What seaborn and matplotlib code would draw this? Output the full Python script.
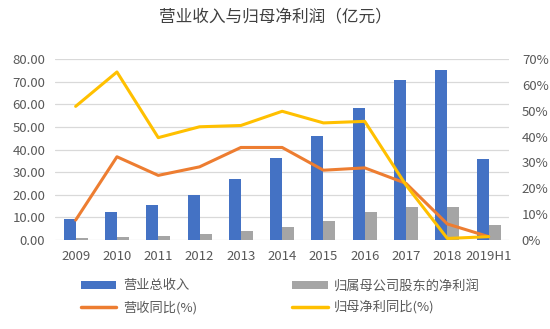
import numpy as np
import pandas as pd
import matplotlib
matplotlib.use("Agg")
import matplotlib.pyplot as plt
import seaborn as sns
from matplotlib.patches import Patch
from matplotlib.lines import Line2D
from matplotlib.ticker import FuncFormatter

years = ["2009", "2010", "2011", "2012", "2013", "2014", "2015", "2016", "2017", "2018", "2019H1"]
revenue = [9.1, 12.4, 15.3, 19.7, 26.8, 36.2, 45.9, 58.5, 70.9, 75.0, 35.6]
net_profit = [0.7, 1.3, 1.9, 2.6, 3.8, 5.7, 8.2, 12.2, 14.7, 14.7, 6.8]
revenue_yoy = [7.7, 32.2, 25.0, 28.3, 35.8, 35.8, 27.0, 27.9, 21.9, 6.2, 1.3]
profit_yoy = [51.7, 65.0, 39.6, 43.8, 44.3, 49.8, 45.3, 45.9, 21.2, 0.6, 1.3]

bar_labels = ["营业总收入", "归属母公司股东的净利润"]
line_labels = ["营收同比(%)", "归母净利同比(%)"]
title = "营业收入与归母净利润（亿元）"

c_blue, c_gray, c_orange, c_yellow = "#4472C4", "#A5A5A5", "#ED7D31", "#FFC000"
txt = "#595959"

sns.set_theme(style="white")
plt.rcParams["font.family"] = ["Noto Sans CJK SC", "DejaVu Sans"]

df = pd.DataFrame({
    "year": years * 2,
    "value": revenue + net_profit,
    "series": [bar_labels[0]] * len(years) + [bar_labels[1]] * len(years),
})

fig = plt.figure(figsize=(5.5, 3.29), dpi=100)
ax = fig.add_axes([0.1, 0.2705, 0.826, 0.55])

sns.barplot(data=df, x="year", y="value", hue="series", order=years,
            palette=[c_blue, c_gray], width=0.58, gap=0, ax=ax, legend=False,
            saturation=1, linewidth=0, edgecolor="none")
ax.set_ylim(0, 80)
ax.set_yticks(np.arange(0, 81, 10))
ax.yaxis.set_major_formatter(FuncFormatter(lambda v, p: f"{v:.2f}"))
ax.grid(axis="y", color="#D9D9D9", linewidth=0.9)
ax.set_axisbelow(True)
ax.set_xlabel("")
ax.set_ylabel("")
for s in ax.spines.values():
    s.set_visible(False)
ax.tick_params(axis="both", length=0, labelsize=9.5, colors=txt)
ax.tick_params(axis="x", pad=7)
ax.tick_params(axis="y", pad=7)
ax.set_xlim(-0.5, len(years) - 0.5)

ax2 = ax.twinx()
xpos = np.arange(len(years))
sns.lineplot(x=xpos, y=revenue_yoy, color=c_orange, linewidth=2.2, ax=ax2, sort=False)
sns.lineplot(x=xpos, y=profit_yoy, color=c_yellow, linewidth=2.2, ax=ax2, sort=False)
ax2.set_ylim(0, 70)
ax2.set_yticks(np.arange(0, 71, 10))
ax2.yaxis.set_major_formatter(FuncFormatter(lambda v, p: f"{v:.0f}%"))
ax2.tick_params(axis="y", length=0, labelsize=9.5, colors=txt, pad=9)
ax2.grid(False)
for s in ax2.spines.values():
    s.set_visible(False)
ax2.set_xlim(-0.5, len(years) - 0.5)

fig.text(0.5, 0.945, title, ha="center", va="center", fontsize=12, color="#404040")

handles = [
    Patch(facecolor=c_blue, edgecolor="none"),
    Line2D([0], [0], color=c_orange, linewidth=2.5),
    Patch(facecolor=c_gray, edgecolor="none"),
    Line2D([0], [0], color=c_yellow, linewidth=2.5),
]
labels = [bar_labels[0], line_labels[0], bar_labels[1], line_labels[1]]
fig.legend(handles, labels, ncol=2, loc="center left", bbox_to_anchor=(0.125, 0.098),
           frameon=False, fontsize=9.5, handlelength=2.7, handleheight=0.6,
           columnspacing=7.2, labelcolor=txt, handletextpad=0.5, labelspacing=0.6)

fig.savefig("out.png", dpi=100)
